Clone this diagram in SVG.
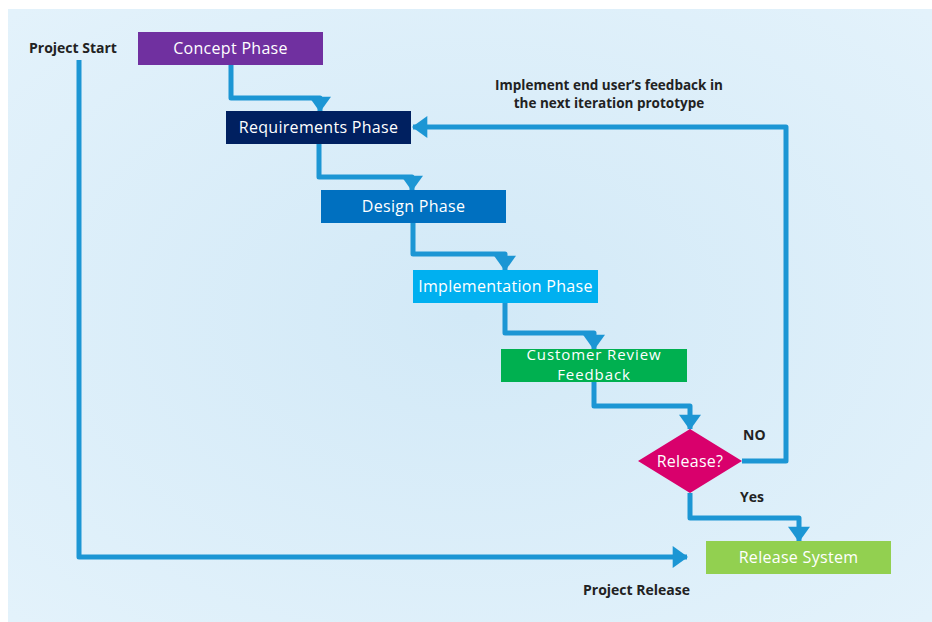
<svg xmlns="http://www.w3.org/2000/svg" width="932" height="622" viewBox="0 0 932 622">
  <defs>
    <radialGradient id="bg" cx="0.5" cy="0.5" r="0.7">
      <stop offset="0" stop-color="#D2E9F7"/>
      <stop offset="1" stop-color="#E3F2FB"/>
    </radialGradient>
    <marker id="arrow" viewBox="0 0 7 10" refX="6.5" refY="5" markerWidth="3.2" markerHeight="4.4" markerUnits="strokeWidth" orient="auto">
      <path d="M0,0 L7,5 L0,10 z" fill="#1C96D4"/>
    </marker>
    <style>
      .flow { fill: none; stroke: #1C96D4; stroke-width: 5; stroke-linejoin: round; stroke-linecap: butt; }
      .box-text { font-family: "Open Sans", "Noto Sans", "Liberation Sans", sans-serif; font-size: 16px; letter-spacing: 0.3px; fill: #FFFFFF; text-anchor: middle; }
      .box-text.small { font-size: 15px; letter-spacing: 0.9px; }
      .label { font-family: "Open Sans", "Noto Sans", "Liberation Sans", sans-serif; font-size: 14px; font-weight: bold; fill: #222222; }
      .label.note { font-size: 13.5px; }
    </style>
  </defs>

  <!-- canvas -->
  <rect x="0" y="0" width="932" height="622" fill="#FFFFFF"/>
  <rect x="8" y="9" width="924" height="613" fill="url(#bg)"/>

  <!-- connectors -->
  <g id="connectors">
    <path class="flow" d="M231,65 V98 H320 V111" marker-end="url(#arrow)"/>
    <path class="flow" d="M319,144 V177 H412 V190" marker-end="url(#arrow)"/>
    <path class="flow" d="M413,223 V254 H505 V270" marker-end="url(#arrow)"/>
    <path class="flow" d="M505,303 V333 H594 V349" marker-end="url(#arrow)"/>
    <path class="flow" d="M594,382 V406 H690 V429" marker-end="url(#arrow)"/>
    <path class="flow" d="M742,461 H786 V127 H413" marker-end="url(#arrow)"/>
    <path class="flow" d="M690,493 V518 H799 V541" marker-end="url(#arrow)"/>
    <path class="flow" d="M79,60 V557 H687" marker-end="url(#arrow)"/>
  </g>

  <!-- nodes -->
  <g id="concept">
    <rect x="138" y="32" width="185" height="33" fill="#7030A0"/>
    <text class="box-text" x="230.5" y="54">Concept Phase</text>
  </g>
  <g id="requirements">
    <rect x="226" y="111" width="185" height="33" fill="#002060"/>
    <text class="box-text" x="318.5" y="133">Requirements Phase</text>
  </g>
  <g id="design">
    <rect x="321" y="190" width="185" height="33" fill="#0070C0"/>
    <text class="box-text" x="413.5" y="212">Design Phase</text>
  </g>
  <g id="implementation">
    <rect x="413" y="270" width="185" height="33" fill="#00B0F0"/>
    <text class="box-text" x="505.5" y="292">Implementation Phase</text>
  </g>
  <g id="review">
    <rect x="501" y="349" width="186" height="33" fill="#00B050"/>
    <text class="box-text small" x="594" y="359.5">Customer Review</text>
    <text class="box-text small" x="594" y="380.2">Feedback</text>
  </g>
  <g id="release-decision">
    <polygon points="690,429 742,461 690,493 638,461" fill="#D9006C"/>
    <text class="box-text" x="690" y="467">Release?</text>
  </g>
  <g id="release-system">
    <rect x="706" y="541" width="185" height="33" fill="#92D050"/>
    <text class="box-text" x="798.5" y="563">Release System</text>
  </g>

  <!-- annotations -->
  <g id="labels">
    <text class="label" x="29" y="53">Project Start</text>
    <text class="label note" x="609" y="89.5" text-anchor="middle">Implement end user’s feedback in</text>
    <text class="label note" x="609" y="108" text-anchor="middle">the next iteration prototype</text>
    <text class="label" x="743" y="440">NO</text>
    <text class="label" x="740" y="502">Yes</text>
    <text class="label" x="583" y="595">Project Release</text>
  </g>
</svg>
